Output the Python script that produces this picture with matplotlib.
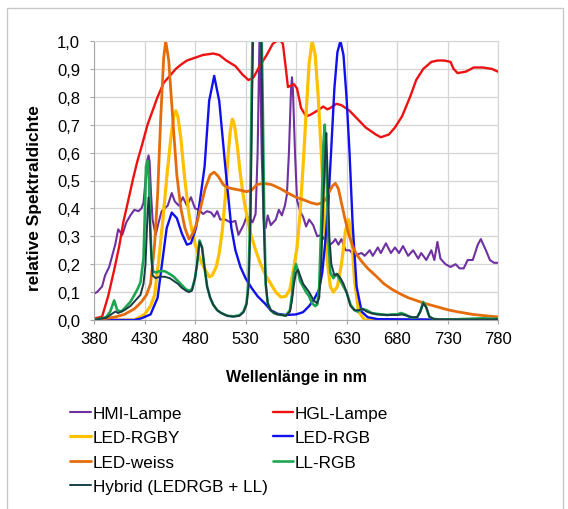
import numpy as np
import matplotlib
matplotlib.use("Agg")
import matplotlib.pyplot as plt
from matplotlib.patches import Rectangle

plt.rcParams['font.family'] = ['Liberation Sans', 'DejaVu Sans']

# Wellenlaengen (nm) und relative Spektraldichte
hmi_nm = [380, 383, 388, 391, 395, 398, 401, 404, 408, 412, 416, 420, 424, 427, 429, 431, 432.5, 434, 435,
          436.5, 438, 441, 444, 447, 450, 453, 457, 460, 464, 468, 472, 476, 480, 484, 488, 492, 496, 499,
          502, 505, 510, 515, 520, 523, 528, 531, 534, 537, 540, 542, 544, 546, 548, 550, 552, 555, 560,
          563, 566, 569, 571, 573, 575, 576, 577, 579, 581, 584, 587, 590, 593, 597, 601, 605, 608, 611,
          614, 617, 619, 622, 625, 629, 633, 638, 641, 645, 648, 653, 656, 661, 664, 669, 674, 678, 682,
          686, 691, 696, 701, 704, 709, 714, 717, 720, 723, 728, 733, 738, 742, 746, 750, 755, 760, 763,
          768, 772, 776, 780]
hmi = [0.095, 0.10, 0.12, 0.16, 0.19, 0.23, 0.27, 0.325, 0.305, 0.35, 0.375, 0.395, 0.39, 0.40, 0.42, 0.50,
       0.57, 0.59, 0.57, 0.45, 0.36, 0.305, 0.35, 0.39, 0.40, 0.41, 0.455, 0.425, 0.41, 0.44, 0.41, 0.44,
       0.40, 0.395, 0.38, 0.39, 0.385, 0.37, 0.39, 0.36, 0.36, 0.35, 0.355, 0.305, 0.34, 0.37, 0.365, 0.35,
       0.38, 0.6, 1.05, 0.6, 0.36, 0.33, 0.375, 0.34, 0.36, 0.395, 0.375, 0.41, 0.45, 0.6, 0.82, 0.87,
       0.82, 0.6, 0.43, 0.39, 0.37, 0.335, 0.36, 0.34, 0.30, 0.305, 0.29, 0.28, 0.27, 0.28, 0.29, 0.27,
       0.29, 0.25, 0.25, 0.23, 0.235, 0.24, 0.23, 0.25, 0.23, 0.26, 0.24, 0.275, 0.24, 0.26, 0.24, 0.265,
       0.23, 0.25, 0.22, 0.24, 0.215, 0.25, 0.215, 0.28, 0.22, 0.2, 0.19, 0.2, 0.185, 0.185, 0.215, 0.215,
       0.27, 0.29, 0.25, 0.215, 0.205, 0.205]

hgl_nm = [380, 388, 394, 400, 405, 409, 414, 418.6, 423, 427, 433, 438, 443, 449, 455, 461, 466, 472, 480,
          488, 498, 504, 511, 520, 527, 533, 538, 544, 551, 557, 561, 565, 567, 570, 572, 575, 578, 581, 585,
          590, 594, 601, 607, 611, 614, 620, 625, 633, 641, 649, 659, 664, 672, 678, 685, 693, 699, 706, 714,
          720, 727, 733, 736, 740, 748, 756, 765, 774, 780]
hgl = [0.005, 0.012, 0.085, 0.18, 0.265, 0.35, 0.43, 0.505, 0.57, 0.62, 0.7, 0.75, 0.8, 0.85, 0.875, 0.9,
       0.915, 0.93, 0.94, 0.95, 0.955, 0.95, 0.93, 0.91, 0.88, 0.86, 0.87, 0.91, 0.95, 0.99, 1.0, 1.0, 0.99,
       0.9, 0.835, 0.84, 0.845, 0.83, 0.76, 0.73, 0.735, 0.75, 0.765, 0.755, 0.76, 0.775, 0.77, 0.75, 0.72,
       0.69, 0.665, 0.655, 0.665, 0.69, 0.73, 0.8, 0.86, 0.9, 0.925, 0.93, 0.93, 0.925, 0.9, 0.885, 0.89,
       0.905, 0.905, 0.9, 0.89]

rgby_nm = [380, 420, 430, 436, 440, 444, 449, 452, 456, 459, 461, 463, 466, 470, 474, 478, 482, 486, 490,
           494, 497, 501, 504, 507, 510, 513, 515, 517, 519, 522, 525, 528, 531, 535, 540, 545, 550, 555,
           560, 565, 570, 574, 578, 581, 584, 587, 590, 593, 596, 599, 602, 605, 608, 611, 614, 617, 621,
           625, 629, 632, 635, 638, 642, 648, 780]
rgby = [0.0, 0.0, 0.02, 0.05, 0.09, 0.21, 0.39, 0.51, 0.65, 0.73, 0.75, 0.73, 0.65, 0.5, 0.38, 0.3, 0.25,
        0.21, 0.18, 0.155, 0.16, 0.19, 0.24, 0.32, 0.44, 0.6, 0.68, 0.72, 0.70, 0.62, 0.52, 0.44, 0.38, 0.31,
        0.25, 0.2, 0.16, 0.13, 0.1, 0.082, 0.085, 0.11, 0.19, 0.26, 0.38, 0.55, 0.74, 0.92, 1.0, 0.95, 0.8,
        0.6, 0.38, 0.21, 0.12, 0.1, 0.12, 0.2, 0.32, 0.36, 0.3, 0.14, 0.03, 0.0, 0.0]

rgb_nm = [380, 420, 427, 436, 443, 448, 452, 457, 462, 467, 472, 476, 481, 485, 489.5, 494, 499, 504, 510,
          516, 520, 525, 530, 536, 542, 549, 555, 562, 570, 580, 587, 593, 598, 603, 606, 609, 612, 615,
          618, 621, 624, 627, 630, 633, 636, 640, 645, 651, 661, 780]
rgb = [0.0, 0.0, 0.006, 0.02, 0.08, 0.22, 0.33, 0.385, 0.365, 0.31, 0.27, 0.275, 0.33, 0.43, 0.55, 0.785,
       0.875, 0.785, 0.55, 0.33, 0.25, 0.19, 0.15, 0.115, 0.085, 0.06, 0.035, 0.022, 0.018, 0.02, 0.028,
       0.05, 0.075, 0.11, 0.17, 0.28, 0.42, 0.62, 0.83, 0.96, 1.0, 0.95, 0.8, 0.6, 0.35, 0.12, 0.03, 0.01,
       0.003, 0.0]

weiss_nm = [380, 400, 410, 420, 427, 432, 436, 438, 440, 443, 446, 449, 451, 454, 458, 462, 466, 470, 474,
            478, 482, 486, 490, 495, 499, 503, 508, 512, 518, 525, 531, 536, 541, 548, 556, 565, 572, 580,
            588, 595, 601, 606, 610, 613, 616, 619, 622, 625, 628, 632, 636, 640, 645, 651, 660, 667, 675,
            683, 691, 699, 707, 715, 723, 731, 739, 747, 755, 763, 771, 780]
weiss = [0.0, 0.01, 0.02, 0.04, 0.065, 0.09, 0.13, 0.2, 0.27, 0.45, 0.72, 0.94, 1.0, 0.93, 0.72, 0.52, 0.4,
         0.33, 0.29, 0.31, 0.35, 0.41, 0.47, 0.52, 0.53, 0.515, 0.485, 0.475, 0.47, 0.465, 0.46, 0.465,
         0.485, 0.49, 0.485, 0.47, 0.455, 0.44, 0.43, 0.42, 0.415, 0.42, 0.435, 0.46, 0.48, 0.49, 0.47, 0.42,
         0.37, 0.31, 0.265, 0.235, 0.21, 0.185, 0.155, 0.13, 0.11, 0.094, 0.08, 0.07, 0.06, 0.052, 0.044,
         0.036, 0.03, 0.025, 0.02, 0.017, 0.014, 0.011]

ll_nm = [380, 392, 396, 400, 403, 407, 411, 416, 420, 423, 426, 429, 430.5, 431.5, 433, 434.5, 435.5, 437,
         438.5, 441, 445, 450, 455, 459, 463, 467, 471, 474, 477, 480, 482, 484.5, 487, 489, 492, 495, 498,
         502, 506, 512, 518, 524, 528, 531, 533, 534.5, 536, 541.5, 547, 548.5, 550, 552, 555, 558, 562, 566,
         570, 574, 576, 578, 580, 582, 584, 587, 590, 593, 596, 599, 601, 603, 605, 607, 608.5, 610, 612,
         614, 617, 620, 624, 627, 630, 634, 638, 641, 645, 650, 655, 660, 665, 670, 675, 680, 684, 688, 692,
         696, 700, 703, 706, 709, 712, 716, 722, 735, 750, 765, 780]
ll = [0.0, 0.01, 0.03, 0.07, 0.035, 0.03, 0.045, 0.065, 0.09, 0.11, 0.135, 0.22, 0.4, 0.55, 0.57, 0.5, 0.35,
      0.22, 0.175, 0.17, 0.175, 0.175, 0.165, 0.155, 0.14, 0.125, 0.11, 0.105, 0.11, 0.15, 0.2, 0.285, 0.26,
      0.2, 0.12, 0.08, 0.055, 0.035, 0.025, 0.015, 0.013, 0.017, 0.03, 0.06, 0.13, 0.37, 0.8, 2.0, 0.8,
      0.37, 0.13, 0.06, 0.035, 0.025, 0.02, 0.018, 0.016, 0.035, 0.09, 0.17, 0.2, 0.175, 0.14, 0.12, 0.1,
      0.085, 0.06, 0.05, 0.055, 0.12, 0.35, 0.62, 0.70, 0.55, 0.3, 0.17, 0.15, 0.165, 0.14, 0.12, 0.1,
      0.055, 0.035, 0.03, 0.04, 0.035, 0.025, 0.022, 0.02, 0.018, 0.02, 0.02, 0.025, 0.02, 0.012, 0.008,
      0.01, 0.03, 0.065, 0.045, 0.012, 0.004, 0.002, 0.002, 0.004, 0.006, 0.004]

hyb_nm = [380, 392, 397, 401, 404, 410, 416, 421, 426, 429, 431, 433, 434, 435, 436.5, 438, 441, 445, 450,
          455, 459, 463, 467, 471, 474, 477, 480, 482, 484.5, 487, 489, 492, 495, 498, 502, 506, 512, 518,
          524, 528, 531, 533, 535, 536.5, 541.5, 546.5, 548, 550, 552, 555, 560, 566, 570, 574, 576, 578, 580,
          582, 584, 587, 590, 593, 596, 599, 601, 603, 605, 607, 609, 610, 611.5, 613, 615, 618, 621, 624,
          627, 630, 634, 638, 642, 646, 650, 655, 660, 670, 680, 685, 690, 695, 700, 703, 706, 709, 712, 716,
          722, 750, 780]
hyb = [0.0, 0.008, 0.02, 0.03, 0.025, 0.035, 0.05, 0.07, 0.09, 0.13, 0.2, 0.38, 0.44, 0.38, 0.25, 0.16,
       0.15, 0.155, 0.155, 0.15, 0.14, 0.13, 0.115, 0.105, 0.1, 0.105, 0.15, 0.2, 0.28, 0.26, 0.2, 0.12,
       0.08, 0.055, 0.035, 0.025, 0.015, 0.012, 0.015, 0.028, 0.055, 0.12, 0.35, 0.78, 2.0, 0.78, 0.35,
       0.13, 0.06, 0.035, 0.022, 0.018, 0.015, 0.03, 0.07, 0.13, 0.17, 0.18, 0.16, 0.13, 0.115, 0.1, 0.08,
       0.065, 0.06, 0.08, 0.2, 0.42, 0.6, 0.67, 0.5, 0.3, 0.2, 0.16, 0.165, 0.15, 0.13, 0.1, 0.05, 0.035,
       0.035, 0.04, 0.03, 0.024, 0.02, 0.018, 0.018, 0.02, 0.015, 0.01, 0.01, 0.03, 0.06, 0.045, 0.012,
       0.004, 0.002, 0.002, 0.002]

fig = plt.figure(figsize=(5.68, 5.10), dpi=100)
ax = fig.add_axes([94 / 568, 1 - 321 / 510, 404 / 568, 279 / 510])

stil = dict(solid_joinstyle="round", solid_capstyle="round")
l_hmi, = ax.plot(hmi_nm, hmi, color="#7030a0", lw=1.5, label="HMI-Lampe", **stil)
l_hgl, = ax.plot(hgl_nm, hgl, color="#ee1111", lw=1.7, label="HGL-Lampe", **stil)
l_rgby, = ax.plot(rgby_nm, rgby, color="#ffc000", lw=2.3, label="LED-RGBY", **stil)
l_rgb, = ax.plot(rgb_nm, rgb, color="#1010ee", lw=1.7, label="LED-RGB", **stil)
l_weiss, = ax.plot(weiss_nm, weiss, color="#e46c0a", lw=2.0, label="LED-weiss", **stil)
l_ll, = ax.plot(ll_nm, ll, color="#1ea552", lw=1.9, label="LL-RGB", **stil)
l_hyb, = ax.plot(hyb_nm, hyb, color="#1a3d45", lw=1.4, label="Hybrid (LEDRGB + LL)", **stil)

ax.set_xlim(380, 780)
ax.set_ylim(0, 1)
ax.set_xticks(np.arange(380, 781, 50))
ax.set_yticks(np.arange(0, 1.01, 0.1))
ax.set_yticklabels([f"{v:.1f}".replace(".", ",") for v in np.arange(0, 1.01, 0.1)])
ax.grid(True, color="#d4d4d4", lw=0.9)
ax.set_axisbelow(True)
for s in ax.spines.values():
    s.set_color("#d4d4d4")
ax.spines["left"].set_color("#a6a6a6")
ax.spines["bottom"].set_color("#a6a6a6")
ax.tick_params(axis="both", labelsize=12, length=3, color="#a6a6a6", direction="out")
ax.tick_params(axis="y", pad=7)
ax.tick_params(axis="x", pad=5)

ax.set_xlabel("Wellenlänge in nm", fontsize=11.5, fontweight="bold")
ax.xaxis.set_label_coords(0.5, -(378 - 321) / 279, transform=ax.transAxes)
ax.set_ylabel("relative Spektraldichte", fontsize=12.5, fontweight="bold")
ax.yaxis.set_label_coords(-(94 - 35) / 404, (321 - 198) / 279, transform=ax.transAxes)
ax.xaxis.label.set_verticalalignment("center")
ax.yaxis.label.set_verticalalignment("center")

handles = [l_hmi, l_rgby, l_weiss, l_hyb, l_hgl, l_rgb, l_ll]
fig.legend(handles=handles, labels=[h.get_label() for h in handles], ncol=2,
           loc="upper left", bbox_to_anchor=(70 / 568, 1 - 407 / 510), frameon=False,
           fontsize=12.3, handlelength=1.2, handletextpad=0.12, columnspacing=0.3,
           labelspacing=0.55, borderpad=0, borderaxespad=0)

# Rahmen um das Diagramm
fig.patches.append(Rectangle((7 / 568, -0.1), 556 / 568, 1.1 - 9 / 510, transform=fig.transFigure,
                             fill=False, edgecolor="#c8c8c8", lw=1.0))

fig.savefig("out.png", dpi=100)
